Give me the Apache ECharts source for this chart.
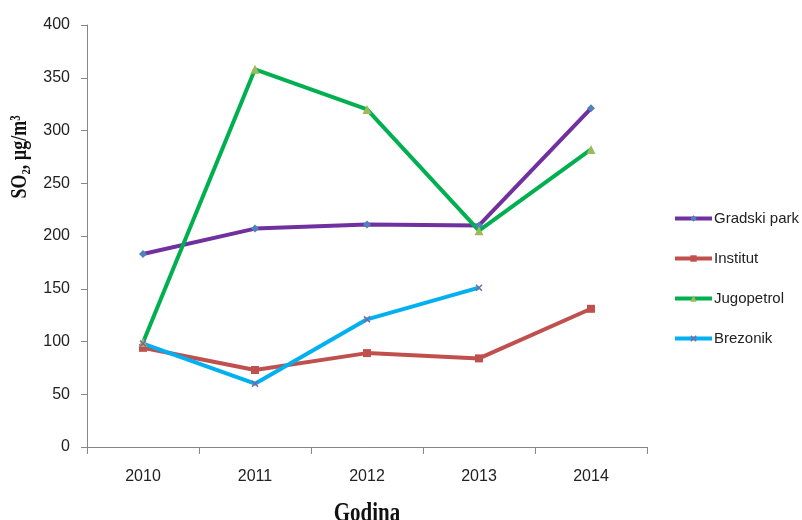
<!DOCTYPE html>
<html><head><meta charset="utf-8">
<script src="https://cdn.jsdelivr.net/npm/echarts@6/dist/echarts.min.js"></script>
<style>html,body{margin:0;padding:0;background:#fff}#c{width:802px;height:520px}</style>
</head><body><div id="c"></div>
<script>
var years = ['2010','2011','2012','2013','2014'];
var gradskiPark = [183, 207, 211, 210, 321];
var institut = [94, 73, 89, 84, 131];
var jugopetrol = [99, 358, 320, 205, 282];
var brezonik = [98, 60, 121, 151, null];
var yTicks = [0, 50, 100, 150, 200, 250, 300, 350, 400];

var FONT = "'Liberation Sans', Arial, sans-serif";
var SERIF = "'Liberation Serif', 'DejaVu Serif', serif";
var crossPath = 'path://M0,1.5L1.5,0L5,3.5L8.5,0L10,1.5L6.5,5L10,8.5L8.5,10L5,6.5L1.5,10L0,8.5L3.5,5Z';

function mk(name, data, lineColor, markColor, symbol, size) {
  return {
    name: name, type: 'line', data: data, symbol: symbol, symbolSize: size,
    showAllSymbol: true, connectNulls: false,
    lineStyle: {color: lineColor, width: 4},
    itemStyle: {color: markColor},
    emphasis: {disabled: true}
  };
}

var chart = echarts.init(document.getElementById('c'), null, {renderer: 'canvas'});
chart.setOption({
  animation: false,
  backgroundColor: '#fff',
  grid: {left: 87, right: 155, top: 25, bottom: 73},
  legend: {
    orient: 'vertical', left: 673, top: 211, itemGap: 25,
    itemWidth: 37, itemHeight: 8, padding: 0,
    lineStyle: {width: 4},
    textStyle: {fontFamily: FONT, fontSize: 15, color: '#222', padding: [0, 0, 0, -3]},
    data: ['Gradski park', 'Institut', 'Jugopetrol', 'Brezonik']
  },
  xAxis: {
    type: 'category', data: years, boundaryGap: true,
    axisLine: {lineStyle: {color: '#868686', width: 1}},
    axisTick: {show: true, length: 7, inside: false, lineStyle: {color: '#868686'}},
    axisLabel: {fontFamily: FONT, fontSize: 16, color: '#222', margin: 22}
  },
  yAxis: {
    type: 'value', min: 0, max: 400, interval: 50,
    axisLine: {show: true, lineStyle: {color: '#868686', width: 1}},
    axisTick: {show: true, length: 6, lineStyle: {color: '#868686'}},
    splitLine: {show: false},
    axisLabel: {fontFamily: FONT, fontSize: 16, color: '#222', margin: 17,
      formatter: function (v) { return yTicks.indexOf(v) >= 0 ? String(v) : ''; }}
  },
  graphic: [
    {type: 'text', x: 20, y: 157, rotation: Math.PI / 2, scaleY: 1.25,
      style: {text: 'SO\u2082, \u00B5g/m\u00B3', font: 'bold 18px ' + SERIF, fill: '#111',
        textAlign: 'center', textVerticalAlign: 'middle'}},
    {type: 'text', x: 367, y: 514, scaleY: 1.35,
      style: {text: 'Godina', font: 'bold 21px ' + SERIF, fill: '#111',
        textAlign: 'center', textVerticalAlign: 'middle'}}
  ],
  series: [
    mk('Gradski park', gradskiPark, '#7030A0', '#4F81BD', 'diamond', 8),
    mk('Institut', institut, '#C0504D', '#C0504D', 'rect', 8),
    mk('Jugopetrol', jugopetrol, '#00B050', '#9BBB59', 'triangle', 9),
    mk('Brezonik', brezonik, '#00B0F0', '#8064A2', crossPath, 7)
  ]
});
</script></body></html>
